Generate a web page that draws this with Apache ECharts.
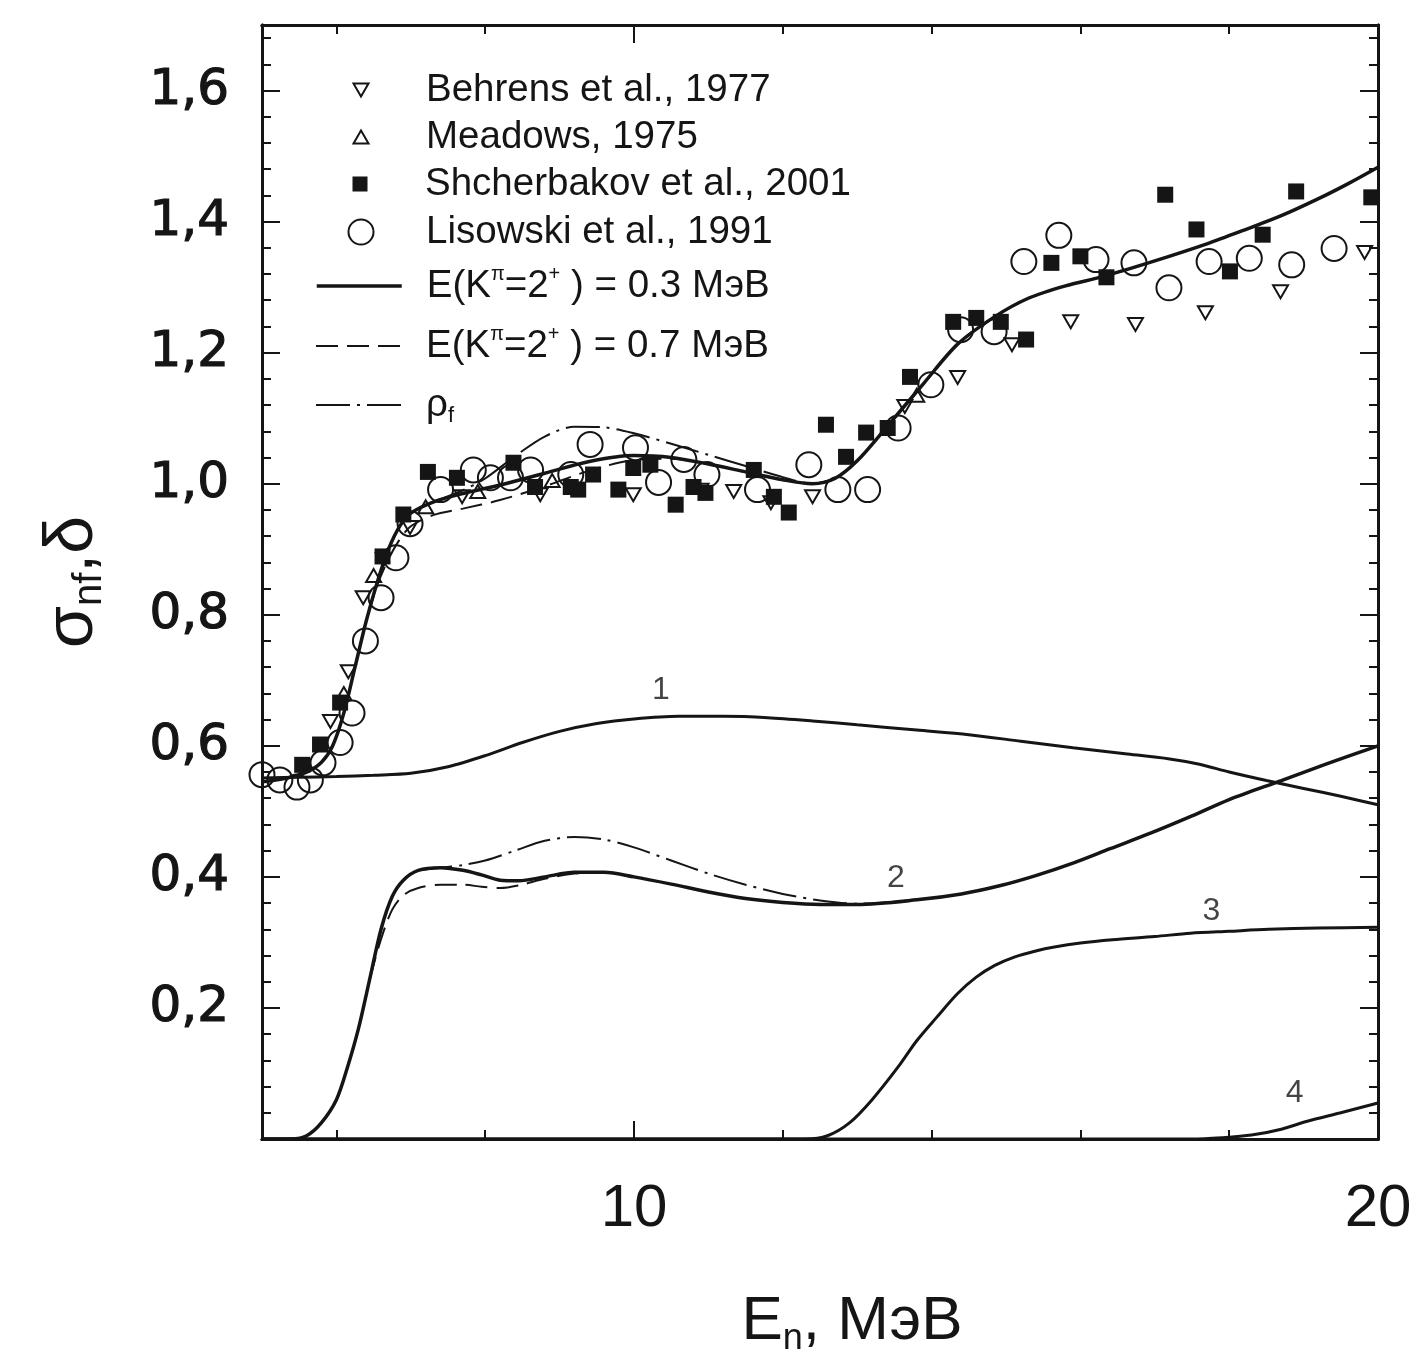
<!DOCTYPE html>
<html>
<head>
<meta charset="utf-8">
<script src="https://cdn.jsdelivr.net/npm/echarts@6/dist/echarts.min.js"></script>
<style>
html,body{margin:0;padding:0;background:#fff;}
#chart{width:1419px;height:1364px;}
</style>
</head>
<body>
<div id="chart"></div>
<script>
// ---------- DATA (E_n in MeV, value) ----------
const behrens1977 = [[5.92,0.637],[6.16,0.713],[6.36,0.826],[6.63,0.884],[6.99,0.933],[7.69,0.98],[8.74,0.983],[9.99,0.983],[10.9,0.99],[11.34,0.988],[11.84,0.971],[12.4,0.98],[13.64,1.118],[14.35,1.162],[15.08,1.212],[15.87,1.247],[16.74,1.243],[17.68,1.261],[18.69,1.293],[19.82,1.353]];
const meadows1975 = [[6.1,0.68],[6.5,0.86],[7.2,0.965],[7.9,0.988],[8.9,1.005],[13.8,1.135]];
const shcherbakov2001 = [[5.54,0.571],[5.78,0.602],[6.05,0.666],[6.62,0.889],[6.9,0.953],[7.23,1.018],[7.62,1.009],[8.38,1.032],[8.67,0.995],[9.15,0.995],[9.25,0.991],[9.45,1.014],[9.79,0.991],[9.99,1.024],[10.22,1.029],[10.56,0.968],[10.8,0.995],[10.96,0.986],[11.61,1.021],[11.88,0.98],[12.08,0.956],[12.58,1.09],[12.85,1.041],[13.12,1.078],[13.41,1.085],[13.71,1.163],[14.29,1.247],[14.6,1.253],[14.93,1.247],[15.27,1.22],[15.61,1.337],[16.0,1.347],[16.35,1.315],[17.14,1.441],[17.56,1.388],[18.01,1.324],[18.45,1.38],[18.9,1.446],[19.91,1.437]];
const lisowski1991 = [[5.0,0.556],[5.24,0.548],[5.47,0.537],[5.65,0.548],[5.82,0.574],[6.05,0.605],[6.21,0.65],[6.39,0.76],[6.6,0.826],[6.8,0.887],[6.99,0.939],[7.4,0.991],[7.84,1.021],[8.07,1.009],[8.34,1.009],[8.61,1.021],[9.15,1.014],[9.41,1.06],[10.02,1.055],[10.33,1.002],[10.67,1.037],[10.98,1.014],[11.66,0.991],[12.35,1.029],[12.74,0.991],[13.14,0.991],[13.55,1.085],[13.99,1.151],[14.39,1.235],[14.84,1.232],[15.24,1.339],[15.71,1.379],[16.21,1.342],[16.72,1.337],[17.19,1.299],[17.73,1.339],[18.27,1.344],[18.84,1.334],[19.41,1.359]];

// total fission cross-section, E(K=2+) = 0.3 MeV
const total03 = [[5.0,0.545],[5.3,0.55],[5.6,0.56],[5.8,0.575],[5.95,0.6],[6.1,0.65],[6.25,0.72],[6.4,0.79],[6.55,0.85],[6.7,0.9],[6.85,0.935],[7.0,0.955],[7.3,0.972],[7.7,0.985],[8.2,0.998],[8.8,1.016],[9.4,1.034],[10.0,1.043],[10.5,1.04],[11.0,1.03],[11.5,1.018],[12.0,1.006],[12.4,1.0],[12.7,1.008],[13.0,1.035],[13.4,1.087],[13.9,1.154],[14.35,1.213],[14.85,1.255],[15.3,1.283],[15.8,1.302],[16.3,1.316],[17.0,1.34],[17.7,1.366],[18.2,1.387],[18.7,1.409],[19.2,1.435],[19.6,1.458],[20.0,1.483]];
// E(K=2+) = 0.7 MeV
const total07 = [[5.0,0.545],[5.3,0.55],[5.6,0.56],[5.8,0.575],[5.95,0.6],[6.1,0.65],[6.25,0.72],[6.4,0.79],[6.55,0.845],[6.7,0.885],[6.85,0.915],[7.0,0.935],[7.3,0.952],[7.7,0.962],[8.2,0.975],[8.8,0.996],[9.4,1.02],[10.0,1.036],[10.5,1.038],[11.0,1.03],[11.5,1.018],[12.0,1.006],[12.4,1.0],[12.7,1.008],[13.0,1.035],[13.4,1.087],[13.9,1.154],[14.35,1.213],[14.85,1.255],[15.3,1.283],[15.8,1.302],[16.3,1.316],[17.0,1.34],[17.7,1.366],[18.2,1.387],[18.7,1.409],[19.2,1.435],[19.6,1.458],[20.0,1.483]];
// rho_f variant
const totalRho = [[7.3,0.972],[7.7,0.99],[8.0,1.008],[8.4,1.042],[8.8,1.072],[9.2,1.087],[9.6,1.086],[10.0,1.077],[10.5,1.061],[11.0,1.044],[11.5,1.027],[12.0,1.01],[12.4,1.0],[12.7,1.008]];

const curve1 = [[5.0,0.551],[5.5,0.552],[6.0,0.553],[6.5,0.555],[7.0,0.558],[7.5,0.568],[8.0,0.585],[8.5,0.605],[9.0,0.622],[9.5,0.634],[10.0,0.641],[10.6,0.645],[11.2,0.645],[11.8,0.643],[12.4,0.638],[13.0,0.632],[13.8,0.624],[14.5,0.617],[15.2,0.607],[15.9,0.597],[16.6,0.588],[17.2,0.58],[17.6,0.572],[18.0,0.56],[18.5,0.547],[19.0,0.535],[19.5,0.523],[20.0,0.51]];
const curve2_03 = [[5.0,0.0],[5.4,0.0],[5.6,0.005],[5.8,0.025],[6.0,0.06],[6.15,0.11],[6.3,0.17],[6.45,0.245],[6.6,0.32],[6.75,0.37],[6.9,0.395],[7.1,0.41],[7.4,0.414],[7.7,0.41],[7.95,0.403],[8.2,0.395],[8.45,0.394],[8.8,0.4],[9.2,0.407],[9.6,0.407],[10.0,0.4],[10.5,0.389],[11.0,0.377],[11.5,0.367],[12.0,0.361],[12.5,0.358],[13.0,0.358],[13.8,0.365],[14.4,0.374],[14.9,0.386],[15.4,0.402],[15.9,0.421],[16.4,0.443],[16.95,0.467],[17.5,0.493],[18.0,0.518],[18.7,0.547],[19.3,0.572],[20.0,0.6]];
const curve2_07 = [[6.45,0.245],[6.6,0.305],[6.75,0.35],[6.9,0.372],[7.1,0.383],[7.4,0.388],[7.7,0.388],[7.95,0.385],[8.2,0.383],[8.45,0.387],[8.8,0.397],[9.2,0.405],[9.6,0.407]];
const curve2_rho = [[7.1,0.41],[7.4,0.414],[7.7,0.418],[8.0,0.425],[8.4,0.44],[8.8,0.455],[9.2,0.461],[9.6,0.457],[10.0,0.445],[10.5,0.425],[11.0,0.405],[11.5,0.388],[12.0,0.374],[12.5,0.364],[13.0,0.359],[13.8,0.365]];
const curve3 = [[5.0,0.0],[12.3,0.0],[12.6,0.005],[12.9,0.025],[13.2,0.06],[13.55,0.11],[13.8,0.15],[14.07,0.186],[14.35,0.222],[14.6,0.247],[14.85,0.265],[15.12,0.278],[15.4,0.287],[15.65,0.293],[16.0,0.299],[16.43,0.304],[17.0,0.309],[17.48,0.314],[18.0,0.317],[18.53,0.32],[19.2,0.322],[20.0,0.323]];
const curve4 = [[5.0,0.0],[17.5,0.0],[17.9,0.002],[18.3,0.006],[18.7,0.015],[19.05,0.027],[19.5,0.04],[20.0,0.055]];

const curveLabelText = ['1','2','3','4'];
const curveLabelE = [10.36,13.52,17.76,18.88];
const curveLabelV = [0.685,0.398,0.347,0.07];

const xTickValues = [6,8,12,14,16,18];
const xMajorValues = [10,20];
const yLabelValues = [0.2,0.4,0.6,0.8,1.0,1.2,1.4,1.6];

const NAME_B = 'Behrens et al., 1977';
const NAME_M = 'Meadows, 1975';
const NAME_S = 'Shcherbakov et al., 2001';
const NAME_L = 'Lisowski et al., 1991';
const NAME_03 = 'E(Kπ=2+ ) = 0.3 МэВ';
const NAME_07 = 'E(Kπ=2+ ) = 0.7 МэВ';
const NAME_RHO = 'ρf';

// ---------- STYLE ----------
const INK = '#151515';
const FONT = 'Liberation Sans, Arial, sans-serif';
const yMinor = [];
for (let i = 1; i <= 42; i++) { if (i % 5 !== 0) yMinor.push(+(i * 0.04).toFixed(2)); }

const chart = echarts.init(document.getElementById('chart'), null, {renderer: 'canvas'});

function xAx(position, ticks, len, labels, extra) {
  return Object.assign({
    type: 'value', min: 5, max: 20, position: position,
    axisLine: {show: true, onZero: false, lineStyle: {color: INK, width: 3}},
    axisTick: {show: true, inside: true, length: len, customValues: ticks, lineStyle: {color: INK, width: 2}},
    axisLabel: labels ? {show: true, customValues: labels, fontSize: 60, fontFamily: FONT, color: INK, margin: 40} : {show: false},
    splitLine: {show: false}
  }, extra || {});
}
function yAx(position, ticks, len, labels, extra) {
  return Object.assign({
    type: 'value', min: 0, max: 1.7, position: position,
    axisLine: {show: true, onZero: false, lineStyle: {color: INK, width: 3}},
    axisTick: {show: true, inside: true, length: len, customValues: ticks, lineStyle: {color: INK, width: 2}},
    axisLabel: labels ? {show: true, customValues: labels, fontSize: 50, fontFamily: 'DejaVu Sans, sans-serif', color: INK,
      textBorderColor: INK, textBorderWidth: 1.2, margin: 33,
      formatter: v => v.toFixed(1).replace('.', ',')} : {show: false},
    splitLine: {show: false}
  }, extra || {});
}

function lineSeries(name, data, type, width, z) {
  return {
    type: 'line', name: name, data: data, xAxisIndex: 0, yAxisIndex: 0,
    symbol: 'none', smooth: 0.3, z: z || 2, silent: true,
    itemStyle: {color: INK},
    lineStyle: {color: INK, width: width, type: type}
  };
}
function scatterSeries(name, data, symbol, size, filled) {
  return {
    type: 'scatter', name: name, data: data, xAxisIndex: 0, yAxisIndex: 0,
    symbol: symbol, symbolSize: size, symbolKeepAspect: true, z: 5, silent: true,
    itemStyle: filled ? {color: INK, borderColor: INK, borderWidth: 0, opacity: 1}
                      : {color: 'rgba(0,0,0,0)', borderColor: INK, borderWidth: 2, opacity: 1}
  };
}

const TRI_DOWN = 'path://M0,0 L10,0 L5,8.66 Z';
const TRI_UP = 'path://M5,0 L10,8.66 L0,8.66 Z';
const DASH = [22, 9];
const DASHDOT = [34, 7, 3, 7];

const LEG_FS = 38.5;
const legText = {fontFamily: FONT, fontSize: LEG_FS, color: INK, lineHeight: 44};
const richStyles = {
  n: {fontFamily: FONT, fontSize: LEG_FS, color: INK, lineHeight: 44},
  sup: {fontFamily: FONT, fontSize: 20, color: INK, lineHeight: 22, verticalAlign: 'top'},
  sub: {fontFamily: FONT, fontSize: 22, color: INK, lineHeight: 22, verticalAlign: 'bottom'}
};
const TEXT_X = 425;
// marker row: symbol centred at cx
function markerRow(name, cx, centerY, size) {
  const left = cx - size / 2;
  return {
    show: true, data: [name], left: left, top: centerY - 22, orient: 'vertical',
    itemWidth: size, itemHeight: size, padding: 0, selectedMode: false,
    textStyle: Object.assign({}, legText, {padding: [0, 0, 0, TEXT_X - (left + size + 5)], rich: richStyles})
  };
}
// line row: line from x0 to x1
function lineRow(name, x0, x1, centerY, width, type, fmt) {
  return {
    show: true, data: [name], left: x0, top: centerY - 22, orient: 'vertical',
    itemWidth: x1 - x0, itemHeight: 2, padding: 0, selectedMode: false,
    itemStyle: {color: 'rgba(0,0,0,0)', borderWidth: 0, opacity: 0},
    lineStyle: {color: INK, width: width, type: type, opacity: 1},
    textStyle: Object.assign({}, legText, {padding: [0, 0, 0, TEXT_X - (x1 + 5)], rich: richStyles}),
    formatter: fmt
  };
}
const fmtE = n => n.indexOf('0.3') >= 0
  ? '{n|E(K}{sup|π}{n|=2}{sup|+}{n| ) = 0.3 МэВ}'
  : '{n|E(K}{sup|π}{n|=2}{sup|+}{n| ) = 0.7 МэВ}';

const option = {
  backgroundColor: '#ffffff',
  animation: false,
  textStyle: {fontFamily: FONT},
  grid: {left: 262, right: 41, top: 25, bottom: 225, containLabel: false},
  legend: [
    markerRow(NAME_B, 360, 90, 15),
    markerRow(NAME_M, 360, 137, 15),
    markerRow(NAME_S, 360, 184, 15),
    markerRow(NAME_L, 360, 232, 25),
    lineRow(NAME_03, 315, 400, 286, 3.5, 'solid', fmtE),
    lineRow(NAME_07, 315, 400, 346, 2, DASH, fmtE),
    lineRow(NAME_RHO, 315, 400, 405, 2, DASHDOT, () => '{n|ρ}{sub|f}')
  ],
  xAxis: [
    xAx('bottom', xTickValues, 9, xMajorValues, {
      name: '{a|E}{s|n}{a|, МэВ}', nameLocation: 'middle', nameGap: 148,
      nameTextStyle: {padding: [0, 0, 0, 64], rich: {
        a: {fontFamily: FONT, fontSize: 62, color: INK, lineHeight: 70},
        s: {fontFamily: FONT, fontSize: 36, color: INK, lineHeight: 36, verticalAlign: 'bottom'}}}
    }),
    xAx('bottom', xMajorValues, 18, null),
    xAx('top', xTickValues, 9, null),
    xAx('top', xMajorValues, 18, null)
  ],
  yAxis: [
    yAx('left', yLabelValues, 18, yLabelValues, {
      name: '{a|σ}{s|nf}{a|,δ}', nameLocation: 'middle', nameGap: 152, nameRotate: 90,
      nameTextStyle: {rich: {
        a: {fontFamily: FONT, fontSize: 68, color: INK, lineHeight: 74},
        s: {fontFamily: FONT, fontSize: 40, color: INK, lineHeight: 40, verticalAlign: 'bottom'}}}
    }),
    yAx('left', yMinor, 9, null),
    yAx('right', yLabelValues, 18, null),
    yAx('right', yMinor, 9, null)
  ],
  series: [
    lineSeries(NAME_03, total03, 'solid', 3.5, 3),
    lineSeries(NAME_07, total07, DASH, 2, 2),
    lineSeries(NAME_RHO, totalRho, DASHDOT, 2, 2),
    lineSeries('curve 1', curve1, 'solid', 3, 3),
    lineSeries('curve 2', curve2_03, 'solid', 3.5, 3),
    lineSeries(NAME_07, curve2_07, DASH, 2, 2),
    lineSeries(NAME_RHO, curve2_rho, DASHDOT, 2, 2),
    lineSeries('curve 3', curve3, 'solid', 3, 3),
    lineSeries('curve 4', curve4, 'solid', 3, 3),
    scatterSeries(NAME_B, behrens1977, TRI_DOWN, 15, false),
    scatterSeries(NAME_M, meadows1975, TRI_UP, 15, false),
    scatterSeries(NAME_S, shcherbakov2001, 'rect', 16, true),
    scatterSeries(NAME_L, lisowski1991, 'circle', 25, false),
    {
      type: 'scatter', name: 'curve labels', xAxisIndex: 0, yAxisIndex: 0, silent: true,
      symbolSize: 1, itemStyle: {color: 'rgba(0,0,0,0)'}, z: 6,
      data: curveLabelText.map((t, i) => ({name: t, value: [curveLabelE[i], curveLabelV[i]]})),
      label: {show: true, position: 'inside', formatter: p => p.name, fontFamily: FONT, fontSize: 32, color: INK}
    }
  ]
};
chart.setOption(option);
</script>
</body>
</html>
